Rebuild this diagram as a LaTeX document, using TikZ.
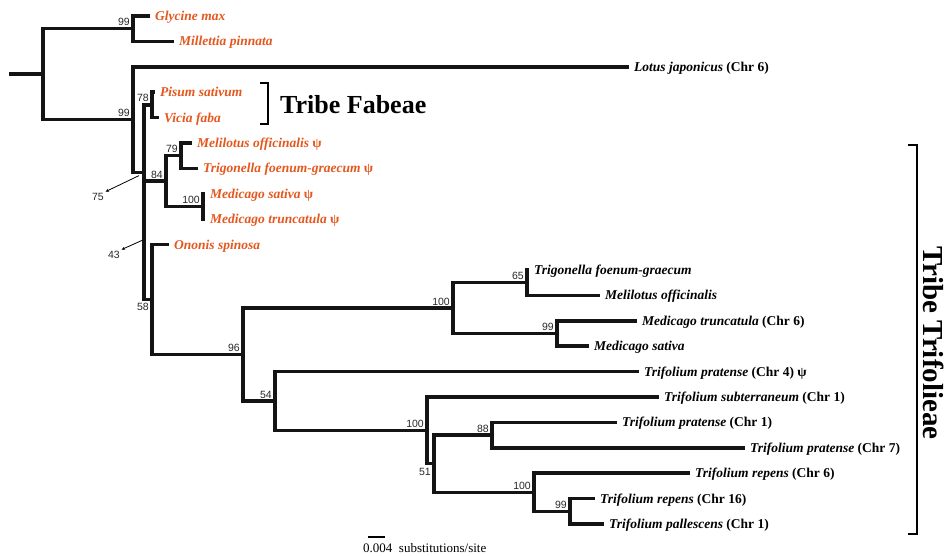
\documentclass[tikz,border=0pt]{standalone}
\usepackage{fontspec}
\setmainfont{Liberation Serif}
\newfontfamily\bootfont{Liberation Sans}
\usetikzlibrary{arrows.meta}

\definecolor{fabcol}{RGB}{228,87,30}
\definecolor{bootcol}{RGB}{40,40,40}

\newcommand{\chrom}[1]{{\upshape (Chr #1)}}
\newcommand{\pgene}{{\upshape\ ψ}}

\tikzset{
	branch/.style={line width=3.5pt,line cap=rect,line join=miter,color=black!92},
	taxon/.style={anchor=base west,inner sep=0pt,font=\fontsize{13.5}{16}\selectfont\bfseries\itshape},
	boot/.style={anchor=south east,inner sep=0pt,text=bootcol,font=\bootfont\fontsize{10.5}{12}\selectfont},
	bootbelow/.style={boot,anchor=north east},
	pointer/.style={line width=0.8pt,-{Stealth[length=3.5pt,width=3pt]}},
	bracket/.style={line width=2.2pt},
	tribe/.style={inner sep=0pt,font=\fontsize{26}{30}\selectfont\bfseries},
}

\begin{document}
\begin{tikzpicture}[x=1pt,y=-1pt]
	\useasboundingbox (0,0) rectangle (948,555);
	\def\dy{25.4}
	%%%%%%%%%%%%%%%%%%%
	%     leaves      %
	%%%%%%%%%%%%%%%%%%%
		\foreach \leaf/\k/\x/\col/\txt in {
			glycine/0/148/fabcol/{Glycine max},
			millettia/1/172/fabcol/{Millettia pinnata},
			lotus/2/627/black/{Lotus japonicus \chrom{6}},
			pisum/3/153/fabcol/{Pisum sativum},
			vicia/4/157/fabcol/{Vicia faba},
			melpsi/5/190/fabcol/{Melilotus officinalis\pgene},
			trigpsi/6/196/fabcol/{Trigonella foenum-graecum\pgene},
			medsatpsi/7/203/fabcol/{Medicago sativa\pgene},
			medtrpsi/8/203/fabcol/{Medicago truncatula\pgene},
			ononis/9/167/fabcol/{Ononis spinosa},
			trig/10/527/black/{Trigonella foenum-graecum},
			meli/11/598/black/{Melilotus officinalis},
			medtr/12/635/black/{Medicago truncatula \chrom{6}},
			medsat/13/587/black/{Medicago sativa},
			tpra4/14/637/black/{Trifolium pratense \chrom{4}\pgene},
			tsub/15/657/black/{Trifolium subterraneum \chrom{1}},
			tpra1/16/615/black/{Trifolium pratense \chrom{1}},
			tpra7/17/743/black/{Trifolium pratense \chrom{7}},
			trep6/18/688/black/{Trifolium repens \chrom{6}},
			trep16/19/593/black/{Trifolium repens \chrom{16}},
			tpal/20/602/black/{Trifolium pallescens \chrom{1}}}
		{
			\coordinate (\leaf) at (\x,{16+\k*\dy});
			\node[taxon,text=\col] (\leaf-lab) at ([xshift=7pt,yshift=-4.5pt]\leaf) {\txt};
		}
	%%%%%%%%%%%%%%%%%%%
	%   inner nodes   %
	%%%%%%%%%%%%%%%%%%%
		\coordinate (root) at (11,74.2);
		\coordinate (A) at (43,74.2);
		\coordinate (n99a) at (133,28.7);
		\coordinate (B) at (133,119.7);
		\coordinate (C0) at (144,172.6);
		\coordinate (C1) at (144,240.3);
		\coordinate (n78) at (152,104.9);
		\coordinate (n84) at (166,181.1);
		\coordinate (n79) at (181,155.7);
		\coordinate (n100m) at (203,206.5);
		\coordinate (n58) at (152,299.6);
		\coordinate (n96) at (243,354.5);
		\coordinate (n100a) at (453,308.1);
		\coordinate (n65) at (527,282.7);
		\coordinate (n99m) at (557,333.5);
		\coordinate (n54) at (275,401);
		\coordinate (n100t) at (427,430.3);
		\coordinate (n51) at (434,463.7);
		\coordinate (n88) at (492,435.1);
		\coordinate (n100r) at (534,492.3);
		\coordinate (n99r) at (570,511.3);
	%%%%%%%%%%%%%%%%%%%
	%    branches     %
	%%%%%%%%%%%%%%%%%%%
		\draw[branch] (root) -- (A);
		\foreach \p/\c in {A/n99a,A/B,n99a/glycine,n99a/millettia,B/lotus,B/C0,
				C0/n78,C0/C1,n78/pisum,n78/vicia,C1/n84,C1/n58,
				n84/n79,n84/n100m,n79/melpsi,n79/trigpsi,n100m/medsatpsi,n100m/medtrpsi,
				n58/ononis,n58/n96,n96/n100a,n96/n54,
				n100a/n65,n100a/n99m,n65/trig,n65/meli,n99m/medtr,n99m/medsat,
				n54/tpra4,n54/n100t,n100t/tsub,n100t/n51,n51/n88,n51/n100r,
				n88/tpra1,n88/tpra7,n100r/trep6,n100r/n99r,n99r/trep16,n99r/tpal}
			\draw[branch] (\p) |- (\c);
	%%%%%%%%%%%%%%%%%%%
	%    bootstrap    %
	%%%%%%%%%%%%%%%%%%%
		\foreach \n/\v in {n99a/99,B/99,n78/78,n79/79,n84/84,n100m/100,n96/96,n54/54,
				n100a/100,n65/65,n99m/99,n100t/100,n88/88,n100r/100,n99r/99}
			\node[boot] (\n-bs) at ([xshift=-3pt,yshift=2.7pt]\n) {\v};
		\node[bootbelow] (n58-bs) at ([xshift=-3pt,yshift=-3pt]n58) {58};
		\node[bootbelow] (n51-bs) at ([xshift=-3pt,yshift=-4pt]n51) {51};
		% pointed values
		\node[boot,anchor=center,inner sep=1.5pt] (lab75) at (98,197) {75};
		\node[boot,anchor=center,inner sep=1.5pt] (lab43) at (114,255) {43};
		\draw[pointer] ([xshift=-5pt,yshift=-3pt]C0) -- (lab75.north east);
		\draw[pointer] ([xshift=-1.8pt]C1) -- (lab43.north east);
	%%%%%%%%%%%%%%%%%%%
	%     tribes      %
	%%%%%%%%%%%%%%%%%%%
		\coordinate (fabTop) at (260,83);
		\coordinate (fabBot) at (260,124);
		\draw[bracket] (fabTop) -- ++(8,0) |- (fabBot);
		\node[tribe,anchor=base west] (fabeae) at (280,113) {Tribe Fabeae};
		\coordinate (trifTop) at (908,145);
		\coordinate (trifBot) at (908,534);
		\draw[bracket] (trifTop) -- ++(9,0) |- (trifBot);
		\node[tribe,rotate=-90,font=\fontsize{29}{34}\selectfont\bfseries] (trifolieae) at (934,343) {Tribe Trifolieae};
	%%%%%%%%%%%%%%%%%%%
	%    scale bar    %
	%%%%%%%%%%%%%%%%%%%
		\coordinate (sbL) at (368,537);
		\coordinate (sbR) at (385,537);
		\draw[line width=1.2pt] (sbL) -- (sbR);
		\node[anchor=base west,inner sep=0pt,font=\fontsize{13}{15}\selectfont] (sblab) at (363,552) {0.004\ \ substitutions/site};
\end{tikzpicture}
\end{document}
